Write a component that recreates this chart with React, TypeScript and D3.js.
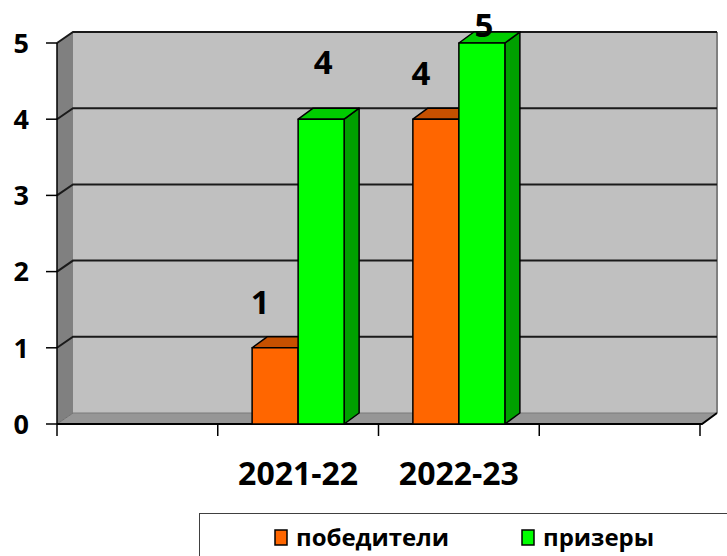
import React from "react";
import * as d3 from "d3";

const categories = ["", "2021-22", "2022-23", ""];
const seriesNames = ["победители", "призеры"];
const winners: (number | null)[] = [null, 1, 4, null];
const prizers: (number | null)[] = [null, 4, 5, null];
const yTicks = [0, 1, 2, 3, 4, 5];

const W = 727;
const H = 556;
const FONT = "'Open Sans', 'Noto Sans', sans-serif";

const frontColors = ["#FF6600", "#00FF00"];
const topColors = ["#C65000", "#00CC00"];
const sideColors = ["#A04000", "#00A000"];
// label offsets per series (relative to bar front-centre and front-top)
const labelDx = [-15, 2];
const labelAbove = [46, 57];

export default function App() {
  const x0 = 57, x1 = 700, yBottom = 424, yTop = 43;
  const DX = 16, DY = -11;
  const bDX = 15, bDY = -11;
  const x = d3.scaleBand<number>().domain(d3.range(categories.length)).range([x0, x1]);
  const y = d3.scaleLinear().domain([0, 5]).range([yBottom, yTop]);
  const sub = d3.scaleBand<number>().domain([0, 1]).range([0, x.bandwidth()]).paddingOuter(0.747);
  const series = [winners, prizers];
  const backR = x1 + DX + 1;

  const bars: JSX.Element[] = [];
  const labels: JSX.Element[] = [];
  categories.forEach((_, ci) => {
    series.forEach((vals, si) => {
      const v = vals[ci];
      if (v == null) return;
      const bx = (x(ci) as number) + (sub(si) as number);
      const w = sub.bandwidth();
      const yv = y(v), y0 = y(0);
      bars.push(
        <g key={`b${ci}-${si}`} stroke="#000" strokeWidth={1.5} strokeLinejoin="round">
          <polygon fill={sideColors[si]} points={`${bx + w},${yv} ${bx + w + bDX},${yv + bDY} ${bx + w + bDX},${y0 + bDY} ${bx + w},${y0}`} />
          <polygon fill={topColors[si]} points={`${bx},${yv} ${bx + bDX},${yv + bDY} ${bx + w + bDX},${yv + bDY} ${bx + w},${yv}`} />
          <rect x={bx} y={yv} width={w} height={y0 - yv} fill={frontColors[si]} />
        </g>
      );
      const ly = Math.max(yv - labelAbove[si], 25);
      labels.push(
        <text key={`l${ci}-${si}`} x={bx + w / 2 + labelDx[si]} y={ly} dy="0.36em" textAnchor="middle"
          fontFamily={FONT} fontWeight="bold" fontSize={33} fill="#000">{v}</text>
      );
    });
  });

  const tickXs = d3.range(categories.length + 1).map((i) => x0 + i * x.step());

  return (
    <svg width={W} height={H} style={{ position: "fixed", left: 0, top: 0, background: "#fff" }}>
      {/* side wall */}
      <polygon points={`${x0},${yTop} ${x0 + DX},${yTop + DY} ${x0 + DX},${yBottom + DY} ${x0},${yBottom}`} fill="#808080" />
      {/* back wall */}
      <rect x={x0 + DX} y={yTop + DY} width={backR - x0 - DX} height={yBottom - yTop} fill="#C0C0C0" />
      <line x1={backR} x2={backR} y1={yTop + DY} y2={yBottom + DY} stroke="#808080" strokeWidth={2} />
      {/* floor */}
      <polygon points={`${x0},${yBottom} ${x0 + DX},${yBottom + DY} ${backR},${yBottom + DY} ${x1 + 2},${yBottom}`} fill="#969696" />
      <line x1={x0 + DX} x2={backR} y1={yBottom + DY} y2={yBottom + DY} stroke="#7a7a7a" strokeWidth={1} />
      <line x1={x0} x2={x0 + DX} y1={yBottom} y2={yBottom + DY} stroke="#707070" strokeWidth={1} />
      {/* gridlines */}
      {yTicks.filter((t) => t > 0).map((t) => (
        <polyline key={`g${t}`} fill="none" stroke="#1a1a1a" strokeWidth={2}
          points={`${x0},${y(t)} ${x0 + DX},${y(t) + DY} ${backR},${y(t) + DY}`} />
      ))}
      {/* floor front edge */}
      <polyline fill="none" stroke="#000" strokeWidth={2}
        points={`${x0},${yBottom} ${x1 + 2},${yBottom} ${backR},${yBottom + DY}`} />
      {bars}
      {labels}
      {/* y axis */}
      <line x1={x0} x2={x0} y1={yTop} y2={yBottom} stroke="#000" strokeWidth={1.5} />
      {yTicks.map((t) => (
        <g key={`yt${t}`}>
          <line x1={x0 - 11} x2={x0} y1={y(t)} y2={y(t)} stroke="#000" strokeWidth={1.5} />
          <text x={29} y={y(t)} dy="0.36em" textAnchor="end" fontFamily={FONT} fontWeight="bold" fontSize={27} fill="#000">{t}</text>
        </g>
      ))}
      {/* x axis ticks */}
      {tickXs.map((tx, i) => (
        <line key={`xt${i}`} x1={tx} x2={tx} y1={yBottom} y2={yBottom + 12} stroke="#000" strokeWidth={1.5} />
      ))}
      {categories.map((c, i) => (
        <text key={`xc${i}`} x={(x(i) as number) + x.bandwidth() / 2} y={485} textAnchor="middle"
          fontFamily={FONT} fontWeight="bold" fontSize={32} fill="#000">{c}</text>
      ))}
      {/* legend */}
      <rect x={199.5} y={513.5} width={560} height={60} fill="#fff" stroke="#404040" strokeWidth={1} />
      {seriesNames.map((n, i) => {
        const lx = i === 0 ? 275 : 522;
        return (
          <g key={`lg${i}`}>
            <rect x={lx} y={530} width={12} height={15} fill={frontColors[i]} stroke="#000" strokeWidth={1.5} />
            <text x={lx + 21} y={537} dy="0.36em" fontFamily={FONT} fontWeight="bold" fontSize={24} fill="#000">{n}</text>
          </g>
        );
      })}
    </svg>
  );
}
